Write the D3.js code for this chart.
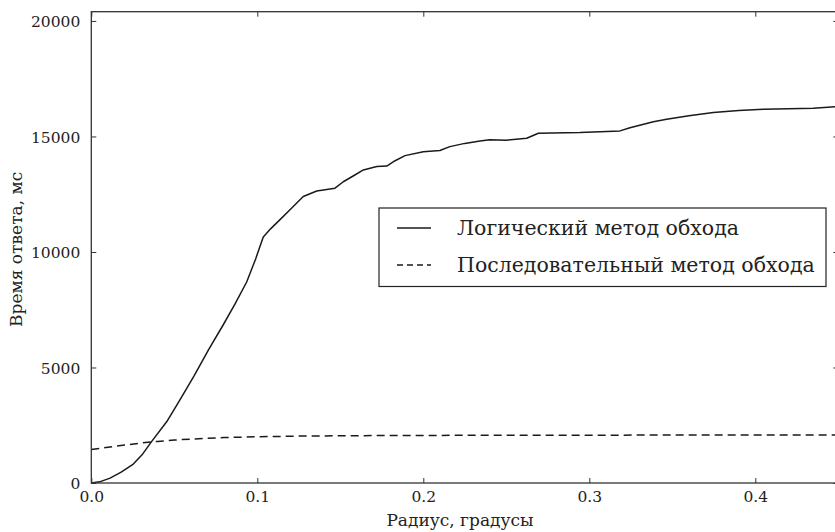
<!DOCTYPE html>
<html>
<head>
<meta charset="utf-8">
<script src="https://cdn.jsdelivr.net/npm/d3@7"></script>
<style>
  html, body { margin: 0; padding: 0; background: #fff; }
  svg text { font-family: "DejaVu Serif"; }
</style>
</head>
<body>
<svg id="chart" width="835" height="532"></svg>
<script>
// ---- data ----
const logicalRadius = [0, 0.005, 0.0113, 0.018, 0.0253, 0.031, 0.0364, 0.0454, 0.0534, 0.062, 0.0705, 0.0795, 0.0866, 0.0936, 0.099, 0.1036, 0.108, 0.1137, 0.12, 0.1277, 0.1358, 0.1468, 0.1518, 0.158, 0.1639, 0.172, 0.178, 0.183, 0.189, 0.2, 0.21, 0.216, 0.225, 0.2342, 0.24, 0.2502, 0.2623, 0.2693, 0.2944, 0.3185, 0.3245, 0.3386, 0.3466, 0.36, 0.3747, 0.39, 0.4048, 0.42, 0.4349, 0.45];
const logicalTime = [0, 50, 210, 470, 820, 1260, 1800, 2650, 3600, 4650, 5750, 6850, 7750, 8700, 9700, 10650, 11000, 11400, 11850, 12400, 12640, 12760, 13040, 13300, 13550, 13700, 13720, 13950, 14170, 14340, 14390, 14560, 14700, 14800, 14860, 14840, 14920, 15140, 15170, 15240, 15380, 15640, 15740, 15900, 16040, 16120, 16180, 16200, 16220, 16300];
const sequentialRadius = [0, 0.01, 0.02, 0.03, 0.04, 0.05, 0.06, 0.07, 0.08, 0.1, 0.125, 0.15, 0.2, 0.25, 0.3, 0.35, 0.45];
const sequentialTime = [1450, 1550, 1640, 1730, 1800, 1860, 1900, 1940, 1965, 2000, 2030, 2045, 2060, 2065, 2070, 2075, 2080];
const xTicks = [0.0, 0.1, 0.2, 0.3, 0.4];
const yTicks = [0, 5000, 10000, 15000, 20000];
const seriesNames = ["Логический метод обхода", "Последовательный метод обхода"];
const xLabel = "Радиус, градусы";
const yLabel = "Время ответа, мс";

// ---- layout ----
(function () {
const svg = d3.select("#chart");
const pL = 91.3, pR = 838.3, pT = 11.7, pB = 483;
const x = d3.scaleLinear().domain([0, 0.45]).range([pL, pR]);
const y = d3.scaleLinear().domain([0, 20400]).range([pB, pT]);
const axisColor = "#333";
const lineColor = "#1a1a1a";
const tickFont = 15.5;

// lines
const line = d3.line().x(d => x(d[0])).y(d => y(d[1]));
svg.append("path")
  .datum(d3.zip(logicalRadius, logicalTime))
  .attr("d", line).attr("fill", "none").attr("stroke", lineColor).attr("stroke-width", 1.5)
  .attr("stroke-linejoin", "round");
svg.append("path")
  .datum(d3.zip(sequentialRadius, sequentialTime))
  .attr("d", line).attr("fill", "none").attr("stroke", lineColor).attr("stroke-width", 1.5)
  .attr("stroke-dasharray", "8,5");

// frame
svg.append("rect").attr("x", pL).attr("y", pT).attr("width", pR - pL).attr("height", pB - pT)
  .attr("fill", "none").attr("stroke", axisColor).attr("stroke-width", 1.3);

// axes with inward ticks
const tickLen = 5;
const fmtX = d3.format(".1f");
const gxb = svg.append("g").attr("transform", `translate(0,${pB})`)
  .call(d3.axisBottom(x).tickValues(xTicks).tickSize(-tickLen).tickPadding(tickLen + 3).tickFormat(fmtX));
const gxt = svg.append("g").attr("transform", `translate(0,${pT})`)
  .call(d3.axisTop(x).tickValues(xTicks).tickSize(-tickLen).tickFormat(""));
const gyl = svg.append("g").attr("transform", `translate(${pL},0)`)
  .call(d3.axisLeft(y).tickValues(yTicks).tickSize(-tickLen).tickPadding(tickLen + 6).tickFormat(d3.format("d")));
const gyr = svg.append("g").attr("transform", `translate(${pR},0)`)
  .call(d3.axisRight(y).tickValues(yTicks).tickSize(-tickLen).tickFormat(""));
[gxb, gxt, gyl, gyr].forEach(g => {
  g.attr("font-family", null);
  g.select(".domain").remove();
  g.selectAll(".tick line").attr("stroke", axisColor).attr("stroke-width", 1);
  g.selectAll(".tick text").attr("fill", "#222").attr("font-size", tickFont);
});
gyl.selectAll(".tick text").attr("dy", "0.36em");

// axis labels
svg.append("text").attr("x", 460).attr("y", 526).attr("text-anchor", "middle")
  .attr("font-size", 17).attr("fill", "#222").text(xLabel);
svg.append("text").attr("transform", `translate(22,${(pT + pB) / 2 + 2}) rotate(-90)`)
  .attr("text-anchor", "middle").attr("font-size", 17).attr("fill", "#222").text(yLabel);

// legend
const lg = svg.append("g");
lg.append("rect").attr("x", 379).attr("y", 208).attr("width", 447).attr("height", 78.5)
  .attr("fill", "#fff").attr("stroke", "#222").attr("stroke-width", 1.2);
const rows = [{ name: seriesNames[0], dash: null, yy: 228 }, { name: seriesNames[1], dash: "6,4", yy: 265 }];
rows.forEach(r => {
  const l = lg.append("line").attr("x1", 397).attr("x2", 431).attr("y1", r.yy).attr("y2", r.yy)
    .attr("stroke", lineColor).attr("stroke-width", 1.5);
  if (r.dash) l.attr("stroke-dasharray", r.dash);
  lg.append("text").attr("x", 457).attr("y", r.yy).attr("dy", "0.35em")
    .attr("font-size", 20.5).attr("fill", "#222").text(r.name);
});
})();
</script>
</body>
</html>
